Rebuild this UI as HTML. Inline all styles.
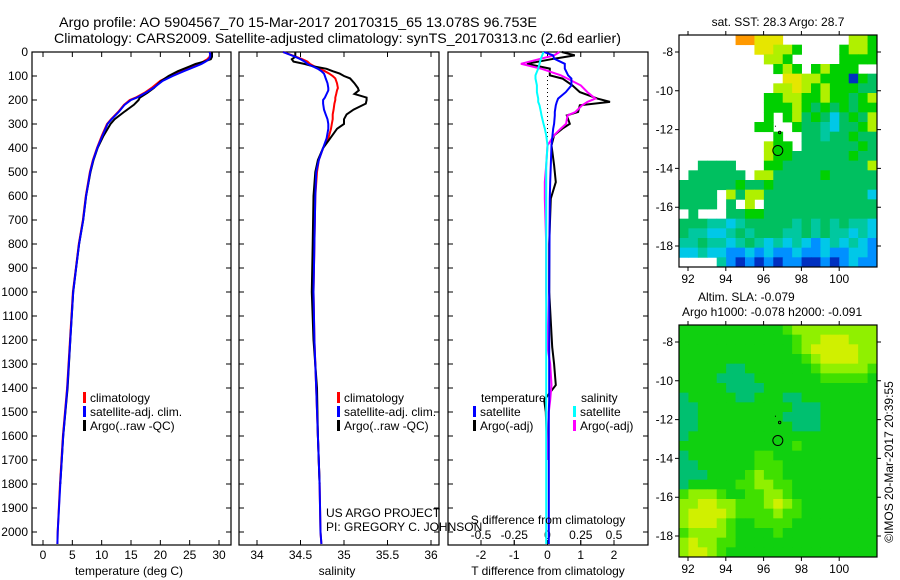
<!DOCTYPE html>
<html><head><meta charset="utf-8"><style>
html,body{margin:0;padding:0;background:#fff;}
svg{display:block;font-family:"Liberation Sans",sans-serif;font-size:12px;}
</style></head><body>
<svg id="fig" width="900" height="580" viewBox="0 0 900 580" xmlns="http://www.w3.org/2000/svg">
<text x="59" y="27" font-size="14" textLength="478" lengthAdjust="spacingAndGlyphs">Argo profile: AO 5904567_70 15-Mar-2017 20170315_65 13.078S 96.753E</text>
<text x="54" y="43" font-size="14" textLength="567" lengthAdjust="spacingAndGlyphs">Climatology: CARS2009. Satellite-adjusted climatology: synTS_20170313.nc (2.6d earlier)</text>
<text x="778" y="26" text-anchor="middle">sat. SST: 28.3 Argo: 28.7</text>
<text x="698" y="301">Altim. SLA: -0.079</text>
<text x="682" y="316">Argo h1000: -0.078 h2000: -0.091</text>
<text transform="translate(893,462) rotate(-90)" text-anchor="middle">©IMOS 20-Mar-2017 20:39:55</text>
<g id="g1"></g>
<g id="g2"></g>
<g id="g3"></g>
<g id="m1"></g>
<g id="m2"></g>
</svg>
<script>
// ---- data ----
const depthT = [0,10,20,30,40,50,60,80,100,120,150,170,190,200,220,250,280,300,350,400,450,500,600,700,800,900,1000,1200,1400,1600,1800,2000,2050];
const climT = [28.5,28.5,28.4,28.0,27.3,26.5,25.5,23.5,21.6,20.0,18.5,17.3,15.8,14.8,13.8,12.8,11.6,10.9,10.0,9.2,8.5,8.0,7.3,6.8,6.1,5.6,5.1,4.6,4.1,3.4,2.9,2.5,2.45];
const satT = [28.4,28.5,28.5,28.3,27.7,27.0,26.0,24.0,22.1,20.4,18.8,17.5,16.0,15.0,13.9,12.9,11.7,11.0,10.1,9.25,8.55,8.05,7.35,6.85,6.15,5.65,5.15,4.65,4.15,3.45,2.95,2.5,2.45];
const argoT = [28.8,28.8,28.8,28.6,27.5,26.0,25.0,23.0,21.4,20.2,18.9,17.8,16.5,16.3,15.5,13.8,12.2,11.5,10.3,9.3,8.6,8.1,7.35,6.85,6.15,5.65,5.15,4.65,4.2,3.45,2.95,null,null];

const depthS = [0,20,30,40,50,60,70,80,90,100,110,130,150,160,175,190,200,215,240,260,280,300,320,360,400,450,500,600,800,1000,1200,1400,1600,1800,2000,2050];
const climS = [34.30,34.45,34.52,34.58,34.61,34.66,34.72,34.78,34.83,34.87,34.90,34.92,34.93,34.92,34.91,34.90,34.90,34.89,34.88,34.87,34.87,34.86,34.85,34.82,34.76,34.71,34.69,34.67,34.66,34.65,34.66,34.68,34.70,34.72,34.73,34.74];
const satS = [34.30,34.44,34.50,34.55,34.58,34.64,34.70,34.74,34.77,34.78,34.79,34.81,34.82,34.82,34.80,34.78,34.76,34.76,34.77,34.79,34.81,34.82,34.82,34.80,34.76,34.71,34.68,34.67,34.66,34.65,34.66,34.68,34.70,34.72,34.73,34.74];
const argoS = [34.44,34.44,34.40,34.42,34.55,34.65,34.80,34.87,34.95,35.00,35.07,35.12,35.16,35.17,35.12,35.26,35.26,35.25,35.11,35.03,35.00,35.00,34.92,34.84,34.76,34.70,34.67,34.65,34.64,34.63,34.65,34.69,34.70,34.72,null,null];

const depthD = [0,14,28,49,69,97,111,139,167,194,208,222,250,264,299,319,347,389,472,542,611,800,1000,1229,1300,1388,1450,1500,1700,2000,2050];
const argoTd = [0.43,0.82,0.2,-0.62,0.07,0.07,0.45,0.75,0.97,1.5,1.88,0.97,0.92,0.58,0.67,0.45,0.2,0.12,0.2,0.25,0.1,0.05,0.05,0.14,0.2,0.25,-0.1,-0.05,0.0,null,null];
const satTd = [-0.1,0.17,0.2,0.52,0.52,0.62,0.72,0.72,0.55,0.32,0.28,0.25,0.22,0.22,0.2,0.17,0.15,0.12,0.1,0.08,0.07,0.06,0.05,0.05,0.05,0.05,0.05,0.04,0.04,0.04,0.04];
const argoSd = [0.09,0.05,-0.05,-0.2,-0.05,0.1,0.15,0.25,0.3,0.36,0.3,0.26,0.21,0.15,0.14,0.1,0.05,0.0,-0.01,-0.02,-0.02,-0.01,-0.01,0.0,0.02,0.03,0.02,0.01,0.0,null,null];
const satSd = [-0.03,-0.04,-0.05,-0.06,-0.07,-0.09,-0.09,-0.08,-0.08,-0.07,-0.07,-0.06,-0.05,-0.045,-0.03,-0.02,-0.01,0,-0.01,-0.01,-0.01,-0.01,-0.01,-0.01,-0.01,-0.01,-0.01,-0.01,-0.01,-0.01,-0.01];

const depthTicks = [0,100,200,300,400,500,600,700,800,900,1000,1100,1200,1300,1400,1500,1600,1700,1800,1900,2000];
const tempTicks = [0,5,10,15,20,25,30];
const salTicks = [34,34.5,35,35.5,36];
const salTickLabels = ["34","34.5","35","35.5","36"];
const tdTicks = [-2,-1,0,1,2];
const sdTicks = [-0.5,-0.25,0,0.25,0.5];
const sdTickLabels = ["-0.5","-0.25","0","0.25","0.5"];
const lonTicks = [92,94,96,98,100];
const latTicks = [-8,-10,-12,-14,-16,-18];

const sstRows = [
"      ooyyy       llg",
"        yyllg    gllg",
"         llg     gggg",
"          glg glggg  ",
"           yyllgggBgG",
"          llylglgggGG",
"         ggllgglggGgl",
"         ggglgGgGgGg",
"         g glGgGcGgGl",
"        gg  gGGtcGGgl",
"          g  GGtGGgGG",
"         lgg GGGGGGgG",
"         lggGGGGGGgGG",
"  GGGG   ggGGGGGGGGGl",
" GGGGGG llGGGGGgGGGGG",
"GGGGGGgGGgGGGGGGGGGGG",
"GGGG lGllGGGGGGGGGGGc",
"GGGG G l GGGGGGGGGGGG",
" G   GGggGGGGGGGGGGGG",
"GGGttctGGGGGtGtGtGttc",
"GttcctGtGGGttGtGttctc",
"ttGttctGtctctcbctctcb",
"cctccbbcbcbbcbbcbbccb",
"    tbBbBbBbbBBbBbcbb"];
const slaRows = [
"ggggggggggghlllllllll",
"gggggggggggghllyyylll",
"gggggggggggghlyyyyyll",
"ggggggggggggghlyyyyll",
"gggggGGggggggghlllllh",
"ggggGGGGggggggghhhhhg",
"gggggGGGGgggggggggggg",
"GgggggGGgggGGgggggggg",
"GGggggggggggGGGgggggg",
"GGgggggggggGGGGgggggg",
"GGggggggggggGGGgggggg",
"Gggggggggggggggggggggg",
"gggggggggggghgggggggg",
"Gggggggghhgggggggggg",
"GGgggggghhhggggggggg",
"GGGgggghlhhgggggggggg",
"Gggggghhllhhgggggggg",
"hlllhgghhllhggggggggg",
"llyyllhhhlylhgggggggg",
"lyyyylhhhhlhhgggggggg",
"lyyylhgghhhhggggggggg",
"hllllhgggghgggggggggg",
"lyllhhggggggggggggggg",
"lyylhgggggggggggggggg"];

const NS = "http://www.w3.org/2000/svg";
function mk(parent, tag, attrs, text){
  const e = document.createElementNS(NS, tag);
  for (const k in attrs) e.setAttribute(k, attrs[k]);
  if (text !== undefined) e.textContent = text;
  parent.appendChild(e);
  return e;
}
const Y0 = 52, PY = 0.24, BOT = 545;
const yD = d => Y0 + d * PY;

function frame(g, x0, x1, name){
  const r = mk(g, 'rect', {x:x0, y:Y0, width:x1-x0, height:BOT-Y0, fill:'none', stroke:'#000', 'stroke-width':1.2});
  
  
  depthTicks.forEach(d => {
    const t = mk(g, 'path', {d:`M${x0},${yD(d)}h5M${x1},${yD(d)}h-5`, stroke:'#000', 'stroke-width':1});
    
    
  });
}
function line(g, xs, ds, fx, color, name, w){
  let p = '', started = false;
  for (let i = 0; i < xs.length; i++){
    if (xs[i] === null || xs[i] === undefined){ started = false; continue; }
    p += (started ? 'L' : 'M') + fx(xs[i]).toFixed(1) + ',' + yD(ds[i]).toFixed(1);
    started = true;
  }
  const e = mk(g, 'path', {d:p, fill:'none', stroke:color, 'stroke-width':w||2, 'stroke-linejoin':'miter'});
  
  
}
function xticks(g, ticks, labels, fx, ylab, top){
  ticks.forEach((v, i) => {
    const x = fx(v);
    const t = mk(g, 'path', {d:`M${x},${BOT}v-5` + (top ? `M${x},${Y0}v5` : ''), stroke:'#000'});
    
    
    if (labels){
      const l = mk(g, 'text', {x:x, y:ylab, 'text-anchor':'middle'}, labels[i]);
      
      
    }
  });
}
function legendItem(g, x, y, color, label){
  const m = mk(g, 'rect', {x:x, y:y-10, width:3, height:11, fill:color});
  
  
  const t = mk(g, 'text', {x:x+7, y:y}, label);
  
  
}

// Panel 1: temperature
const g1 = document.getElementById('g1');
const fT = v => 43 + v * 5.867;
frame(g1, 32, 231, 'temperature');
depthTicks.forEach(d => {
  const l = mk(g1, 'text', {x:28, y:yD(d)+4, 'text-anchor':'end'}, String(d));
  
  
});
xticks(g1, tempTicks, tempTicks.map(String), fT, 559, true);
line(g1, climT, depthT, fT, '#ff0000', 'temperature-climatology-line');
line(g1, argoT, depthT, fT, '#000000', 'temperature-argo-line');
line(g1, satT, depthT, fT, '#0000ff', 'temperature-satellite-line');
legendItem(g1, 83, 402, '#ff0000', 'climatology');
legendItem(g1, 83, 416, '#0000ff', 'satellite-adj. clim.');
legendItem(g1, 83, 430, '#000000', 'Argo(..raw -QC)');
mk(g1, 'text', {x:129, y:575, 'text-anchor':'middle',  }, 'temperature (deg C)');

// Panel 2: salinity
const g2 = document.getElementById('g2');
const fS = v => 257 + (v - 34) * 87;
frame(g2, 239, 439, 'salinity');
xticks(g2, salTicks, salTickLabels, fS, 559, true);
line(g2, climS, depthS, fS, '#ff0000', 'salinity-climatology-line');
line(g2, argoS, depthS, fS, '#000000', 'salinity-argo-line');
line(g2, satS, depthS, fS, '#0000ff', 'salinity-satellite-line');
legendItem(g2, 337, 402, '#ff0000', 'climatology');
legendItem(g2, 337, 416, '#0000ff', 'satellite-adj. clim.');
legendItem(g2, 337, 430, '#000000', 'Argo(..raw -QC)');
mk(g2, 'text', {x:337, y:575, 'text-anchor':'middle',  }, 'salinity');
mk(g2, 'text', {x:326, y:517,  }, 'US ARGO PROJECT');
mk(g2, 'text', {x:326, y:531,  }, 'PI: GREGORY C. JOHNSON');

// Panel 3: differences
const g3 = document.getElementById('g3');
const fTd = v => 547.5 + v * 33.25;
const fSd = v => 547.5 + v * 133;
frame(g3, 448, 648, 'difference');
xticks(g3, tdTicks, tdTicks.map(String), fTd, 559, false);
xticks(g3, sdTicks, null, fSd, 0, true);
sdTicks.forEach((v, i) => {
  const l = mk(g3, 'text', {x:fSd(v), y:539, 'text-anchor':'middle'}, sdTickLabels[i]);
  
  
});
mk(g3, 'path', {d:`M${fTd(0)},${yD(100)}V${yD(360)}`, stroke:'#000', 'stroke-dasharray':'1,3',  });
line(g3, argoTd, depthD, fTd, '#000000', 'temperature-diff-argo-line');
line(g3, argoSd, depthD, fSd, '#ff00ff', 'salinity-diff-argo-line');
line(g3, satTd, depthD, fTd, '#0000ff', 'temperature-diff-satellite-line');
line(g3, satSd, depthD, fSd, '#00ffff', 'salinity-diff-satellite-line');
mk(g3, 'text', {x:481, y:402,  }, 'temperature');
mk(g3, 'text', {x:581, y:402,  }, 'salinity');
legendItem(g3, 473, 416, '#0000ff', 'satellite');
legendItem(g3, 473, 430, '#000000', 'Argo(-adj)');
legendItem(g3, 573, 416, '#00ffff', 'satellite');
legendItem(g3, 573, 430, '#ff00ff', 'Argo(-adj)');
mk(g3, 'text', {x:548, y:524, 'text-anchor':'middle',  }, 'S difference from climatology');
mk(g3, 'text', {x:548, y:575, 'text-anchor':'middle',  }, 'T difference from climatology');

// Maps
const sstPal = {o:'#ff9900', y:'#e6e600', l:'#b0f000', g:'#00d000', G:'#00c060', t:'#00c8a0', c:'#00c8e8', b:'#0090ff', B:'#0030c0'};
const slaPal = {g:'#10d010', G:'#00c070', h:'#40e000', l:'#90f000', y:'#d0f000'};
function map(gid, top, bottom, rows, pal, latAt8, name){
  const g = document.getElementById(gid);
  const L = 679, R = 877;
  const fx = lon => 688 + (lon - 92) * 18.9;
  const fy = lat => latAt8 + (-8 - lat) * 19.4;
  const cw = (R - L) / 21, ch = (bottom - top) / 24;
  rows.forEach((row, r) => {
    for (let c = 0; c < 21; c++){
      const k = row[c] === undefined ? 'g' : row[c];
      if (k === ' ' || !pal[k]) continue;
      const cell = mk(g, 'rect', {x:(L + c*cw).toFixed(2), y:(top + r*ch).toFixed(2), width:(cw+0.4).toFixed(2), height:(ch+0.4).toFixed(2), fill:pal[k]});
      
      
    }
  });
  const fr = mk(g, 'rect', {x:L, y:top, width:R-L, height:bottom-top, fill:'none', stroke:'#000', 'stroke-width':1.2});
  
  
  lonTicks.forEach(v => {
    const t = mk(g, 'path', {d:`M${fx(v)},${top}v-4M${fx(v)},${bottom}v4`, stroke:'#000'});
    
    
    const l = mk(g, 'text', {x:fx(v), y:bottom+16, 'text-anchor':'middle'}, String(v));
    
    
  });
  latTicks.forEach(v => {
    const t = mk(g, 'path', {d:`M${L},${fy(v)}h-4M${R},${fy(v)}h4`, stroke:'#000'});
    
    
    const l = mk(g, 'text', {x:L-6, y:fy(v)+4, 'text-anchor':'end'}, String(v));
    
    
  });
  const m = mk(g, 'circle', {cx:fx(96.753), cy:fy(-13.078), r:5, fill:'none', stroke:'#000'});
  
  
  mk(g, 'circle', {cx:fx(96.85), cy:fy(-12.15), r:1.2, fill:'none', stroke:'#000',  });
  mk(g, 'rect', {x:fx(96.6), y:fy(-11.8), width:1, height:1, fill:'#000',  });
}
map('m1', 35, 267, sstRows, sstPal, 52, 'sst-map');
map('m2', 325, 557, slaRows, slaPal, 342, 'sla-map');
</script>
</body></html>
